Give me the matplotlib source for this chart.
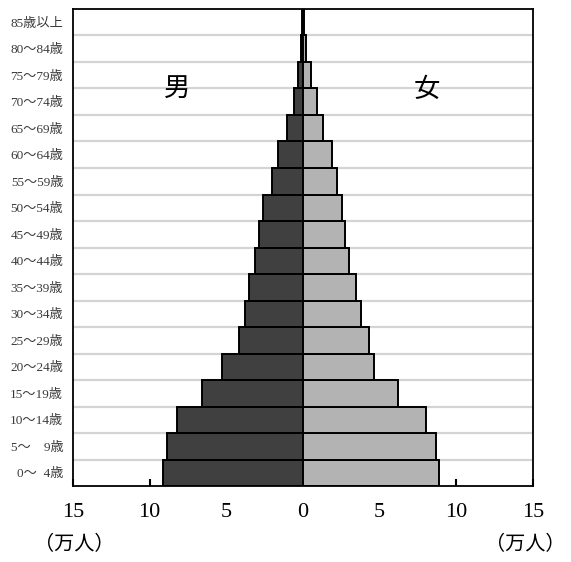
import matplotlib
matplotlib.use("Agg")
import matplotlib.pyplot as plt
import numpy as np

# age groups, youngest first (万人)
ages = ["0～  4歳", "5～　9歳", "10～14歳", "15～19歳", "20～24歳", "25～29歳",
        "30～34歳", "35～39歳", "40～44歳", "45～49歳", "50～54歳", "55～59歳",
        "60～64歳", "65～69歳", "70～74歳", "75～79歳", "80～84歳", "85歳以上"]
male = [9.1, 8.85, 8.2, 6.6, 5.25, 4.15, 3.75, 3.5, 3.1, 2.87, 2.58, 2.04,
        1.63, 1.04, 0.6, 0.33, 0.1, 0.05]
female = [8.9, 8.7, 8.0, 6.2, 4.6, 4.3, 3.8, 3.48, 3.0, 2.74, 2.57, 2.22,
          1.87, 1.3, 0.9, 0.55, 0.22, 0.05]
xticks = [-15, -10, -5, 0, 5, 10, 15]

plt.rcParams['font.family'] = ['Liberation Serif', 'Noto Sans CJK JP']

fig = plt.figure(figsize=(5.71, 5.62), dpi=100)
ax = fig.add_axes([0.1278, 0.1352, 0.8056, 0.8488])

y = np.arange(len(ages))
ax.barh(y, -np.array(male), height=1.0, color="#404040", edgecolor="black",
        linewidth=1.4, zorder=3)
ax.barh(y, female, height=1.0, color="#b3b3b3", edgecolor="black",
        linewidth=1.4, zorder=3)

# row separators
for b in np.arange(0.5, len(ages) - 0.5, 1.0):
    ax.axhline(b, color="#d4d4d4", linewidth=1.6, zorder=1)

ax.set_xlim(-15, 15)
ax.set_ylim(-0.5, len(ages) - 0.5)
ax.set_xticks(xticks)
ax.set_xticklabels([str(abs(v)) for v in xticks], fontsize=16)
ax.tick_params(axis="x", direction="in", length=5, width=1.5, pad=12)
ax.set_yticks(y)
ax.set_yticklabels(ages, fontsize=9.5, color="#3a3a3a")
ax.tick_params(axis="y", length=0, pad=7)

for s in ax.spines.values():
    s.set_linewidth(1.3)
    s.set_zorder(5)

ax.text(-8.2, 14.45, "男", fontsize=19, ha="center", va="center")
ax.text(8.1, 14.45, "女", fontsize=19, ha="center", va="center")

ax.text(-14.9, -2.75, "（万人）", fontsize=14.5, ha="center", va="center")
ax.text(14.5, -2.75, "（万人）", fontsize=14.5, ha="center", va="center")

fig.savefig("out.png", dpi=100)
